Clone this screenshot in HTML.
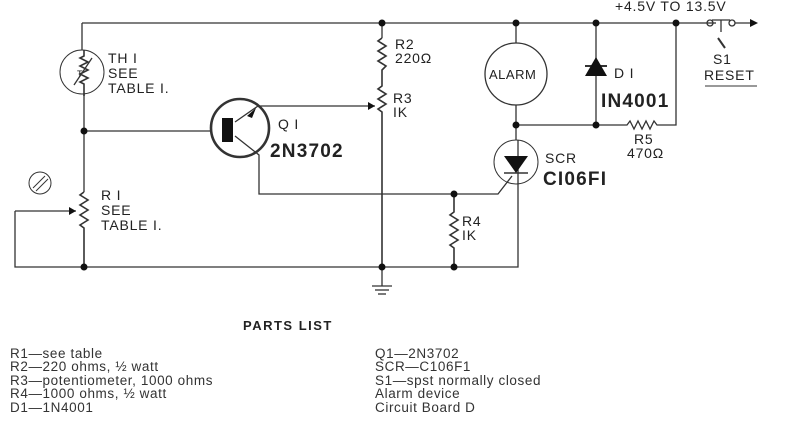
<!DOCTYPE html>
<html><head><meta charset="utf-8"><style>
body{margin:0;background:#fff;width:786px;height:427px;overflow:hidden}
svg{position:absolute;left:0;top:0}
text{font-family:"Liberation Sans",sans-serif;fill:#222}
.t{font-size:14px;letter-spacing:0.8px}
.b{font-size:19px;font-weight:bold;letter-spacing:1.2px}
.p{font-size:13.5px;letter-spacing:0.6px;fill:#333}
</style></head><body>
<svg width="786" height="427" viewBox="0 0 786 427">
<g stroke="#333" stroke-width="1.3" fill="none">
<polyline points="82,23 700,23"/>
<line x1="82" y1="23" x2="82" y2="50"/>
<circle cx="82" cy="72" r="22" stroke-width="1"/>
<polyline points="84,50 84,56 80,58 88,62 80,66 88,70 80,74 88,78 80,82 84,84 84,96" stroke-width="1.6"/>
<line x1="74" y1="85" x2="92" y2="58"/>
<line x1="84" y1="94" x2="84" y2="192"/>
<line x1="84" y1="131" x2="211" y2="131"/>
<polyline points="84,192 80,195 88,200 80,205 88,210 80,215 88,220 80,225 84,228 84,267" stroke-width="1.6"/>
<polyline points="15,211 76,211"/>
<polyline points="15,211 15,267 518,267 518,140"/>
<circle cx="40" cy="183" r="11" stroke-width="1"/>
<line x1="33" y1="188" x2="45" y2="176" stroke-width="1"/><line x1="36" y1="191" x2="48" y2="179" stroke-width="1"/>
<circle cx="240" cy="128" r="29" stroke-width="2.6"/>
<polyline points="235,122 258,106 375,106"/>
<polyline points="235,136 259,155 259,194 498,194 512,176"/>
<line x1="382" y1="23" x2="382" y2="38"/>
<polyline points="382,38 378,41 386,46 378,51 386,56 378,61 386,66 382,70 382,86 378,89 386,94 378,99 386,104 378,109 382,112 382,267" stroke-width="1.6"/>
<polyline points="454,194 454,212 450,215 458,220 450,225 458,230 450,235 458,240 450,245 454,248 454,267" stroke-width="1.6"/>
<line x1="382" y1="267" x2="382" y2="286"/>
<line x1="372" y1="286" x2="392" y2="286"/><line x1="375" y1="290" x2="389" y2="290"/><line x1="378" y1="294" x2="386" y2="294"/>
<line x1="516" y1="23" x2="516" y2="43"/>
<circle cx="516" cy="74" r="31"/>
<line x1="516" y1="105" x2="516" y2="140"/>
<polyline points="516,125 627,125 630,121 634,129 638,121 642,129 646,121 650,129 654,121 657,125 676,125 676,23"/>
<line x1="596" y1="23" x2="596" y2="125"/>
<line x1="585" y1="66" x2="607" y2="66" stroke-width="2"/>
<circle cx="516" cy="162" r="22" stroke-width="1"/>
<line x1="504" y1="173" x2="528" y2="173" stroke-width="1.6"/>
<line x1="700" y1="23" x2="716" y2="23"/>
<circle cx="710" cy="23" r="3"/><circle cx="732" cy="23" r="3"/>
<line x1="712" y1="20" x2="730" y2="20"/>
<line x1="721" y1="20" x2="721" y2="32"/>
<line x1="735" y1="23" x2="752" y2="23"/>
<line x1="718" y1="38" x2="725" y2="48" stroke-width="2"/>
<line x1="705" y1="86" x2="757" y2="86" stroke-width="1"/>
</g>
<g fill="#111">
<polygon points="222,118 233,118 233,142 222,142"/>
<polygon points="247,116 256,108 252,118"/>
<polygon points="375,106 368,102 368,110"/>
<polygon points="76,211 69,207 69,215"/>
<polygon points="596,57 585,76 607,76"/>
<polygon points="504,156 528,156 516,173"/>
<polygon points="758,23 750,19 750,27"/>
<circle cx="382" cy="23" r="3.5"/><circle cx="516" cy="23" r="3.5"/><circle cx="596" cy="23" r="3.5"/><circle cx="676" cy="23" r="3.5"/>
<circle cx="84" cy="131" r="3.5"/><circle cx="84" cy="267" r="3.5"/><circle cx="382" cy="267" r="3.5"/><circle cx="454" cy="267" r="3.5"/>
<circle cx="454" cy="194" r="3.5"/><circle cx="516" cy="125" r="3.5"/><circle cx="596" cy="125" r="3.5"/>
</g>
<text x="77" y="77" font-size="9">T</text>
<text class="t" x="108" y="63">TH I</text><text class="t" x="108" y="78">SEE</text><text class="t" x="108" y="93">TABLE I.</text>
<text class="t" x="101" y="200">R I</text><text class="t" x="101" y="215">SEE</text><text class="t" x="101" y="230">TABLE I.</text>
<text class="t" x="278" y="129">Q I</text><text class="b" x="270" y="157">2N3702</text>
<text class="t" x="395" y="49">R2</text><text class="t" x="395" y="63">220Ω</text>
<text class="t" x="393" y="103">R3</text><text class="t" x="393" y="117">IK</text>
<text class="t" x="462" y="226">R4</text><text class="t" x="462" y="240">IK</text>
<text x="489" y="79" font-size="13" letter-spacing="0.5" fill="#222">ALARM</text>
<text class="t" x="614" y="78">D I</text><text class="b" x="601" y="107">IN4001</text>
<text class="t" x="634" y="144">R5</text><text class="t" x="627" y="158">470Ω</text>
<text class="t" x="545" y="163">SCR</text><text class="b" x="543" y="185">CI06FI</text>
<text class="t" x="615" y="11">+4.5V TO 13.5V</text>
<text class="t" x="713" y="64">S1</text><text class="t" x="704" y="80">RESET</text>
<text x="243" y="330" font-size="13" font-weight="bold" letter-spacing="1.5" fill="#222">PARTS LIST</text>
<text class="p" x="10" y="358">R1—see table</text>
<text class="p" x="10" y="371">R2—220 ohms, ½ watt</text>
<text class="p" x="10" y="385">R3—potentiometer, 1000 ohms</text>
<text class="p" x="10" y="398">R4—1000 ohms, ½ watt</text>
<text class="p" x="10" y="412">D1—1N4001</text>
<text class="p" x="375" y="358">Q1—2N3702</text>
<text class="p" x="375" y="371">SCR—C106F1</text>
<text class="p" x="375" y="385">S1—spst normally closed</text>
<text class="p" x="375" y="398">Alarm device</text>
<text class="p" x="375" y="412">Circuit Board D</text>
</svg>
</body></html>
